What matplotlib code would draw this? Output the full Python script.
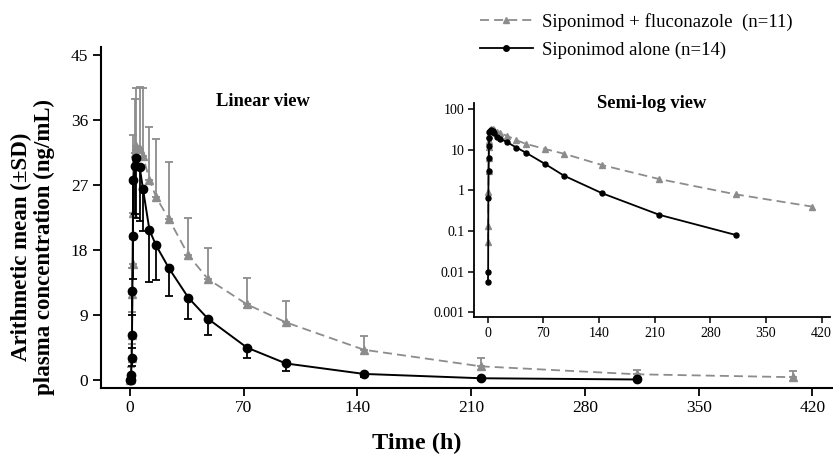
import matplotlib
matplotlib.use("Agg")
import matplotlib.pyplot as plt
import numpy as np
from matplotlib.lines import Line2D

plt.rcParams["font.family"] = ["Liberation Serif", "DejaVu Serif"]

# Siponimod alone (n=14)
t_alone = [0.25, 0.5, 0.75, 1, 1.25, 1.5, 1.75, 2, 3, 4, 6, 8, 12, 16,
           24, 36, 48, 72, 96, 144, 216, 312]
c_alone = [0.0055, 0.01, 0.65, 3.0, 6.3, 12.3, 20.0, 27.7, 29.7, 30.8, 29.5,
           26.5, 20.8, 18.7, 15.5, 11.4, 8.5, 4.5, 2.3, 0.85, 0.25, 0.08]
lo_alone = [0.0055, 0.01, 0.3, 2.0, 4.5, 9.0, 14.0, 20.0, 23.0, 22.5, 22.0,
            20.6, 13.6, 13.9, 11.7, 8.4, 6.2, 3.0, 1.3, 0.37, 0.0, 0.0]

# Siponimod + fluconazole (n=11)
t_flu = [0.25, 0.5, 0.75, 1, 1.25, 1.5, 1.75, 2, 3, 4, 6, 8, 12, 16,
         24, 36, 48, 72, 96, 144, 216, 312, 408]
c_flu = [0.055, 0.13, 0.9, 3.0, 6.2, 12.0, 16.1, 23.1, 31.5, 32.4, 32.0,
         31.0, 27.8, 25.4, 22.3, 17.3, 14.0, 10.5, 8.0, 4.2, 1.9, 0.8, 0.4]
hi_flu = [0.2, 0.6, 1.85, 5.0, 9.5, 15.5, 19.5, 34.0, 39.0, 40.5, 40.6,
          40.5, 35.1, 33.4, 30.2, 22.4, 18.3, 14.1, 10.9, 6.1, 3.1, 1.4, 1.3]

x_ticks = [0, 70, 140, 210, 280, 350, 420]
y_ticks_lin = [0, 9, 18, 27, 36, 45]
y_ticks_log = [0.001, 0.01, 0.1, 1, 10, 100]
y_labels_log = ["0.001", "0.01", "0.1", "1", "10", "100"]

GREY = "#8c8c8c"
dash = (0, (5, 2.8))

fig = plt.figure(figsize=(8.33, 4.59), dpi=100)
ax = fig.add_axes([0.1209, 0.1547, 0.879, 0.7433])

sd_lo = np.array(c_alone) - np.array(lo_alone)
sd_hi = np.array(hi_flu) - np.array(c_flu)

ax.errorbar(t_flu, c_flu, yerr=[np.zeros(len(c_flu)), sd_hi], fmt="none",
            ecolor=GREY, elinewidth=1.3, capsize=3.2, capthick=1.3, zorder=1)
ax.plot(t_flu, c_flu, color=GREY, ls=dash, lw=1.3, marker="^", ms=5.5,
        zorder=2)
ax.errorbar(t_alone, c_alone, yerr=[sd_lo, np.zeros(len(c_alone))],
            fmt="none", ecolor="black", elinewidth=1.3, capsize=3.2,
            capthick=1.3, zorder=3)
ax.plot(t_alone, c_alone, color="black", lw=1.4, marker="o", ms=6,
        zorder=4)

ax.set_xlim(-18, 432.6)
ax.set_ylim(-1.1, 46.2)
ax.set_xticks(x_ticks)
ax.set_yticks(y_ticks_lin)
for s in ["top", "right"]:
    ax.spines[s].set_visible(False)
for s in ["left", "bottom"]:
    ax.spines[s].set_linewidth(1.5)
ax.tick_params(labelsize=12.5, length=6, width=1.3, pad=3)
ax.text(82, 38.6, "Linear view", ha="center", va="center",
        fontsize=13.3, fontweight="bold")

# semi-log inset
ax_in = fig.add_axes([0.5694, 0.3087, 0.427, 0.4663])
ax_in.plot(t_flu, c_flu, color=GREY, ls=dash, lw=1.3, marker="^", ms=4.5)
ax_in.plot(t_alone, c_alone, color="black", lw=1.3, marker="o", ms=3.6)
ax_in.set_yscale("log")
ax_in.set_xlim(-16.9, 430.6)
ax_in.set_ylim(0.00075, 140)
ax_in.set_xticks(x_ticks)
ax_in.set_yticks(y_ticks_log)
ax_in.set_yticklabels(y_labels_log)
ax_in.minorticks_off()
for s in ["top", "right"]:
    ax_in.spines[s].set_visible(False)
for s in ["left", "bottom"]:
    ax_in.spines[s].set_linewidth(1.3)
ax_in.tick_params(labelsize=10, length=4, width=1.1, pad=3)
ax_in.text(0.5, 1.0, "Semi-log view", transform=ax_in.transAxes,
           ha="center", va="center", fontsize=13.3, fontweight="bold")

fig.text(0.04, 0.462, "Arithmetic mean (\u00b1SD)\nplasma concentration (ng/mL)",
         rotation=90, ha="center", va="center", fontsize=16.5,
         fontweight="bold", multialignment="center", linespacing=1.1)
fig.text(0.5, 0.033, "Time (h)", ha="center", va="center", fontsize=17.5,
         fontweight="bold")

handles = [
    Line2D([], [], color=GREY, ls=dash, lw=1.3, marker="^", ms=4.5),
    Line2D([], [], color="black", lw=1.3, marker="o", ms=4),
]
labels = ["Siponimod + fluconazole  (n=11)", "Siponimod alone (n=14)"]
fig.legend(handles, labels, loc="upper left",
           bbox_to_anchor=(480 / 833, 1 - 13 / 459), frameon=False,
           fontsize=13.5, handlelength=2.8, handletextpad=0.5,
           labelspacing=0.55, borderpad=0, borderaxespad=0, numpoints=1)

fig.savefig("out.png", dpi=100)
